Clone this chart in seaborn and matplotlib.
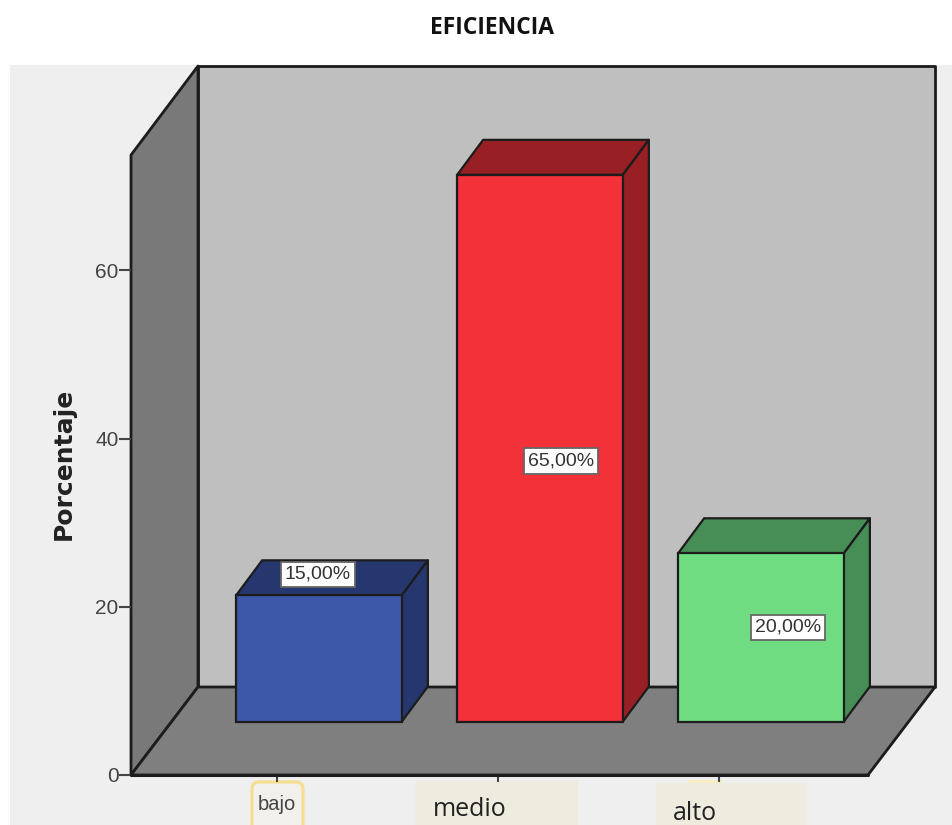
import matplotlib
matplotlib.use("Agg")
import matplotlib.pyplot as plt
import pandas as pd
import seaborn as sns
from matplotlib.patches import Polygon, Rectangle, FancyBboxPatch
from matplotlib.transforms import Affine2D

categories = ["bajo", "medio", "alto"]
percentages = [15, 65, 20]
front_colors = ["#3d58a8", "#f23139", "#6fdc82"]
shade_colors = ["#26376f", "#981f24", "#468e56"]
y_ticks = [0, 20, 40, 60]
# pixel nudges of each value label from the bar's front-face centre (x) and top (y)
label_nudges = [(-1, 21), (21, -286), (27, -74)]

W, H = 953, 825
DPI = 100
AX_L, AX_R, AX_B, AX_T = 131, 868, 775, 155   # pixels, measured from the top-left
FLOOR_DX, FLOOR_DY = 67, 88                   # depth of the chart box
BAR_DX, BAR_DY = 42, 53.5                     # where the bar front sits on the floor
SIDE_DX, SIDE_DY = 26, 35                     # depth of each bar
TICK0, TICK_STEP = 277, 221                   # x pixel of the first category, spacing
PX_PER_UNIT = 8.41
EDGE = "#1c1c1c"

sns.set_theme(style="white")
fig = plt.figure(figsize=(W / DPI, H / DPI), dpi=DPI, facecolor="white")
ax = fig.add_axes([AX_L / W, 1 - AX_B / H, (AX_R - AX_L) / W, (AX_B - AX_T) / H])
ax.patch.set_visible(False)

table = pd.DataFrame({"nivel": categories, "Porcentaje": percentages})
sns.barplot(data=table, x="nivel", y="Porcentaje", hue="nivel", palette=front_colors,
            width=0.75, legend=False, saturation=1, ax=ax, zorder=5)

ax.set_xlim((AX_L - TICK0) / TICK_STEP, (AX_R - TICK0) / TICK_STEP)
ax.set_ylim(0, (AX_B - AX_T) / PX_PER_UNIT)
for s in ax.spines.values():
    s.set_visible(False)


def px(x, y):
    """Display coordinates from top-left pixels."""
    return (x, H - y)


identity = Affine2D()


def box(points, color, z, lw=2.0):
    fig.add_artist(Polygon([px(*p) for p in points], closed=True, facecolor=color,
                           edgecolor=EDGE, linewidth=lw, transform=identity,
                           joinstyle="round", zorder=z))


# chart box: panel, back wall, side wall and floor
fig.add_artist(Rectangle(px(10, 825), W - 10, 760, facecolor="#efefef", edgecolor="none",
                         transform=identity, zorder=-5))
back_l, back_r = AX_L + FLOOR_DX, AX_R + FLOOR_DX
back_b, back_t = AX_B - FLOOR_DY, 66
box([(back_l, back_t), (back_r, back_t), (back_r, back_b), (back_l, back_b)], "#bfbfbf", -4)
box([(AX_L, AX_B), (AX_L, AX_T), (back_l, back_t), (back_l, back_b)], "#797979", -3)
box([(AX_L, AX_B), (AX_R, AX_B), (back_r, back_b), (back_l, back_b)], "#7f7f7f", -3)

# highlighted tick-label backgrounds
fig.add_artist(Rectangle(px(415, 825), 163, 44, facecolor="#eeebdf", edgecolor="none",
                         transform=identity, zorder=-2))
fig.add_artist(Rectangle(px(656, 825), 151, 42, facecolor="#eeebdf", edgecolor="none",
                         transform=identity, zorder=-2))
fig.add_artist(Rectangle(px(688, 783), 34, 3, facecolor="#f8edc4", edgecolor="none",
                         transform=identity, zorder=-2))
fig.add_artist(FancyBboxPatch(px(252, 832), 51, 50, boxstyle="round,pad=0,rounding_size=7",
                              facecolor="#f1f0ec", edgecolor="#f7dd8e", linewidth=2.2,
                              transform=identity, zorder=-2))

# bars: the seaborn rectangles are moved onto the floor, then given a top and a side
shift = Affine2D().translate(BAR_DX, BAR_DY)
for bar, value, dark, (nx, ny) in zip(ax.patches, percentages, shade_colors, label_nudges):
    x0, x1 = bar.get_x(), bar.get_x() + bar.get_width()
    (l, b), (r, t) = ax.transData.transform([(x0, 0), (x1, value)]) + (BAR_DX, BAR_DY)
    bar.set_transform(ax.transData + shift)
    bar.set_edgecolor(EDGE)
    bar.set_linewidth(1.6)
    bar.set_clip_on(False)
    for pts in ([(l, t), (r, t), (r + SIDE_DX, t + SIDE_DY), (l + SIDE_DX, t + SIDE_DY)],
                [(r, b), (r, t), (r + SIDE_DX, t + SIDE_DY), (r + SIDE_DX, b + SIDE_DY)]):
        ax.add_artist(Polygon(pts, closed=True, facecolor=dark, edgecolor=EDGE, linewidth=1.6,
                              transform=identity, joinstyle="round", zorder=4, clip_on=False))
    ax.text((l + r) / 2 + nx, t + ny, f"{value:.2f}%".replace(".", ","), transform=identity,
            ha="center", va="center", fontsize=14, family="Liberation Sans", color="#333333",
            zorder=8, bbox=dict(boxstyle="square,pad=0.22", facecolor="white",
                                edgecolor="#666666", linewidth=1.3))

# axis furniture
ax.set_xticks(range(len(categories)))
ax.set_xticklabels([])
ax.set_yticks(y_ticks)
ax.tick_params(axis="y", length=8.5, width=1.5, color="#444444", pad=0.5, left=True,
               labelsize=15, labelcolor="#444444")
ax.tick_params(axis="x", length=5, width=1.5, color="#444444", bottom=True)
for t in ax.get_yticklabels():
    t.set_family("Liberation Sans")
ax.set_xlabel("")
ax.set_ylabel("")
ax.plot(ax.get_xlim(), [0, 0], color=EDGE, lw=2.2, zorder=3, clip_on=False)

fig.text(277 / W, 1 - 805 / H, categories[0], ha="center", va="center", fontsize=14.5,
         family="Liberation Sans", color="#444444")
fig.text(433 / W, 1 - 810 / H, categories[1], ha="left", va="center", fontsize=18,
         family="Open Sans", color="#222222")
fig.text(673 / W, 1 - 814 / H, categories[2], ha="left", va="center", fontsize=18,
         family="Open Sans", color="#222222")

fig.text(64 / W, 1 - 464 / H, "Porcentaje", rotation=90, ha="center", va="center",
         fontsize=18, fontweight="bold", family="DejaVu Sans", color="#222222")
fig.text(492 / W, 1 - 28 / H, "EFICIENCIA", ha="center", va="center", fontsize=16.5,
         fontweight="bold", family="Open Sans", color="#111111")

fig.savefig("out.png", dpi=DPI, facecolor="white")
